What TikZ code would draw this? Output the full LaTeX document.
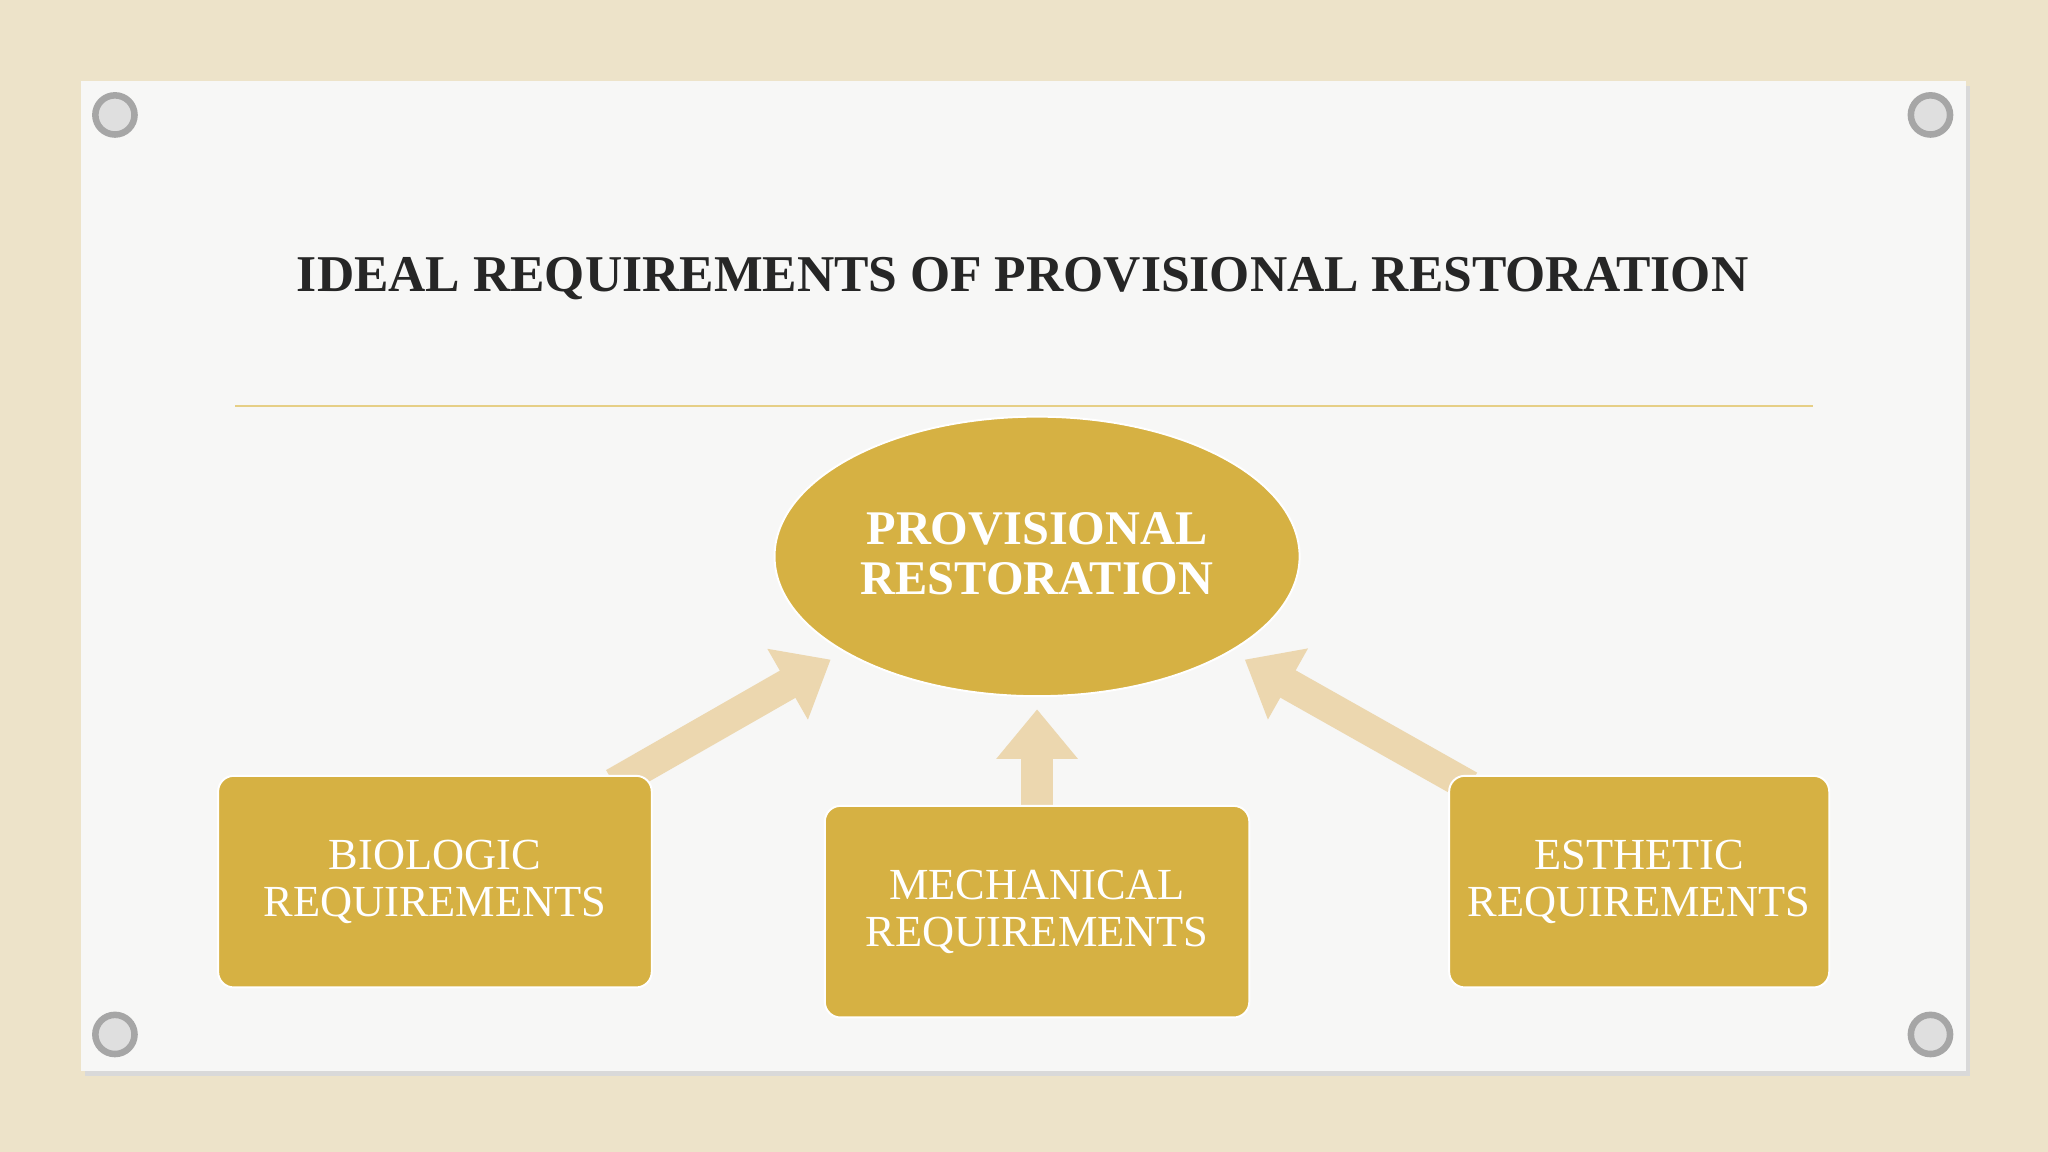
\documentclass[tikz,border=0pt]{standalone}
\usepackage{fontspec}
\setmainfont{Liberation Serif}
\usetikzlibrary{arrows.meta,shapes.geometric,shadows}
\definecolor{canvas}{HTML}{EDE3C9}
\definecolor{paper}{HTML}{F7F7F6}
\definecolor{gold}{HTML}{D6B143}
\definecolor{tan}{HTML}{ECD7AF}
\definecolor{rule}{HTML}{E6CF86}
\tikzset{
  box/.style={draw=white,line width=1.5pt,fill=gold,rounded corners=12pt,text=white,align=center,font=\fontsize{34}{36}\selectfont},
  fat/.style={tan,line width=24pt,-{Triangle[width=60pt,length=38pt]}},
  grommet/.style={circle,minimum size=30pt,inner sep=0pt,draw=gray!70,line width=5pt,fill=gray!25}
}
\begin{document}
\begin{tikzpicture}[x=1pt,y=-1pt]
\useasboundingbox (0,0) rectangle (1568,882);
\fill[canvas] (0,0) rectangle (1568,882);
\fill[black!15] (65,66) rectangle (1508,824);
\fill[paper] (62,62) rectangle (1505,820);
\foreach \n/\x/\y in {g1/88/88,g2/1478/88,g3/88/792,g4/1478/792}
  \node[grommet] (\n) at (\x,\y) {};
\node[font=\bfseries\fontsize{39.5}{42}\selectfont,text=black!85] (title) at (783,213) {IDEAL REQUIREMENTS OF PROVISIONAL RESTORATION};
\draw[rule,line width=1.2pt] (180,311) -- (1388,311);
\coordinate (la) at (470,600); \coordinate (lb) at (636,505);
\coordinate (ma) at (794,618); \coordinate (mb) at (794,543);
\coordinate (ra) at (1125,602); \coordinate (rb) at (953,505);
\draw[fat] (la) -- (lb);
\draw[fat] (ma) -- (mb);
\draw[fat] (ra) -- (rb);
\node[ellipse,draw=white,line width=1.5pt,fill=gold,minimum width=402pt,minimum height=214pt,text=white,align=center,font=\bfseries\fontsize{37}{38}\selectfont] (top) at (794,426) {};
\node[text=white,align=center,font=\bfseries\fontsize{37}{38}\selectfont] (toptext) at (794,424) {PROVISIONAL\\RESTORATION};
\node[box,minimum width=332pt,minimum height=162pt] (bio) at (333,675) {BIOLOGIC\\REQUIREMENTS};
\node[box,minimum width=325pt,minimum height=162pt] (mech) at (794,698) {MECHANICAL\\REQUIREMENTS};
\node[box,minimum width=291pt,minimum height=162pt] (est) at (1255,675) {ESTHETIC\\REQUIREMENTS};
\end{tikzpicture}
\end{document}
